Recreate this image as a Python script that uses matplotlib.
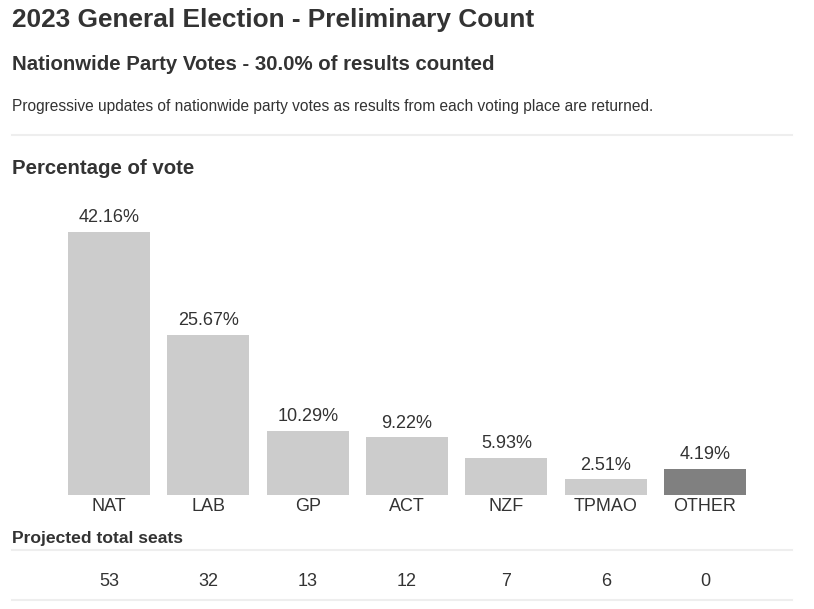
import matplotlib.pyplot as plt
from matplotlib.lines import Line2D

parties = ['NAT', 'LAB', 'GP', 'ACT', 'NZF', 'TPMAO', 'OTHER']
vote_pct = [42.16, 25.67, 10.29, 9.22, 5.93, 2.51, 4.19]
seats = [53, 32, 13, 12, 7, 6, 0]
bar_colors = ['#cccccc'] * 6 + ['#808080']

W, H = 814, 609
plt.rcParams['font.family'] = ['Liberation Sans', 'DejaVu Sans']
txt = '#333333'

fig = plt.figure(figsize=(W / 100, H / 100), dpi=100)


def fx(x):
    return x / W


def fy(y):
    return 1 - y / H


# header texts
fig.text(fx(12), fy(20), '2023 General Election - Preliminary Count',
         fontsize=18.9, fontweight='bold', color=txt, va='center')
fig.text(fx(12), fy(65), 'Nationwide Party Votes - 30.0% of results counted',
         fontsize=14.7, fontweight='bold', color=txt, va='center')
fig.text(fx(12), fy(107), 'Progressive updates of nationwide party votes as results from each voting place are returned.',
         fontsize=11.2, color=txt, va='center')
fig.add_artist(Line2D([fx(12), fx(792)], [fy(135), fy(135)], color='#eeeeee', lw=1.5))
fig.text(fx(12), fy(169), 'Percentage of vote',
         fontsize=14.7, fontweight='bold', color=txt, va='center')

# bar chart area
ax = fig.add_axes([fx(59.4), fy(495), fx(754.7) - fx(59.4), fy(200) - fy(495)])
x = range(len(parties))
bars = ax.bar(x, vote_pct, width=0.826, color=bar_colors)
ax.set_xlim(-0.5, len(parties) - 0.5)
ax.set_ylim(0, 47.28)
for b, v in zip(bars, vote_pct):
    ax.annotate('%.2f%%' % v, (b.get_x() + b.get_width() / 2, v),
                xytext=(0, 4), textcoords='offset points',
                ha='center', va='bottom', fontsize=13, color=txt)
ax.set_xticks(list(x))
ax.set_xticklabels(parties, fontsize=13, color=txt)
ax.tick_params(axis='x', length=0, pad=2)
ax.set_yticks([])
for s in ax.spines.values():
    s.set_visible(False)

# seats table
fig.text(fx(12), fy(538), 'Projected total seats',
         fontsize=12.6, fontweight='bold', color=txt, va='center')
fig.add_artist(Line2D([fx(12), fx(792)], [fy(550), fy(550)], color='#eeeeee', lw=1.5))
fig.add_artist(Line2D([fx(12), fx(792)], [fy(600), fy(600)], color='#eeeeee', lw=1.5))
for i, n in enumerate(seats):
    xd = ax.transData.transform((i, 0))[0]
    fig.text(xd / W, fy(581), str(n), fontsize=13, color=txt,
             ha='center', va='center')

fig.savefig('out.png', dpi=100)
